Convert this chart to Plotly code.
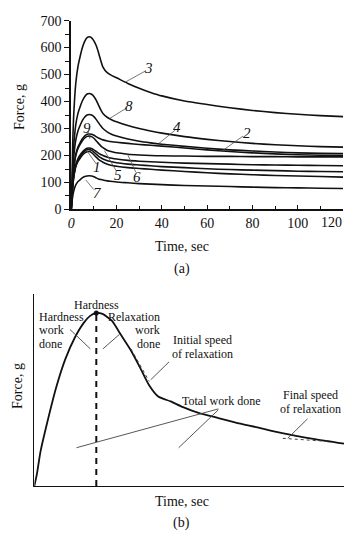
import plotly.graph_objects as go

# ---------------- data: panel (a) ----------------
T = [0, 0.5, 1, 2, 3, 4, 5, 6, 7, 8, 9, 10, 11, 12, 13, 14, 16, 18, 20, 25, 30, 35, 40, 50, 60, 70, 80, 90, 100, 110, 120]
C3 = [0, 198, 333, 467, 531, 570, 602, 624, 637, 640, 636, 625, 608, 583, 553, 528, 506, 496, 488, 467, 449, 434, 421, 402, 389, 377, 367, 359, 353, 348, 344]
C8 = [0, 133, 224, 314, 357, 383, 404, 419, 428, 430, 427, 419, 405, 388, 370, 356, 341, 332, 325, 311, 300, 291, 283, 270, 260, 252, 245, 240, 236, 233, 231]
C4 = [0, 109, 183, 257, 292, 313, 331, 343, 350, 352, 350, 344, 334, 322, 310, 300, 287, 278, 272, 261, 253, 247, 242, 234, 227, 221, 217, 213, 210, 208, 207]
C2 = [0, 87, 146, 204, 232, 249, 263, 273, 279, 280, 279, 275, 270, 265, 261, 258, 254, 251, 249, 245, 241, 238, 235, 228, 221, 215, 210, 206, 203, 201, 200]
C9 = [0, 84, 141, 199, 226, 242, 256, 265, 271, 272, 270, 264, 255, 245, 236, 229, 219, 214, 210, 205, 202, 200, 199, 198, 197, 197, 196, 196, 195, 195, 195]
C5 = [0, 71, 119, 166, 189, 203, 214, 222, 227, 228, 226, 221, 215, 209, 204, 200, 194, 190, 187, 182, 179, 177, 175, 172, 170, 168, 166, 165, 164, 163, 162]
C1 = [0, 69, 115, 162, 184, 198, 209, 216, 221, 222, 219, 213, 205, 198, 192, 187, 181, 177, 173, 168, 165, 162, 159, 155, 151, 148, 146, 144, 142, 141, 140]
C6 = [0, 67, 112, 157, 178, 191, 202, 210, 214, 215, 211, 203, 194, 186, 180, 175, 168, 163, 160, 155, 152, 149, 146, 141, 136, 132, 129, 126, 124, 122, 120]
C7 = [0, 39, 65, 91, 104, 111, 118, 122, 124, 125, 124, 121, 117, 113, 111, 109, 106, 104, 102, 99, 96, 94, 92, 89, 87, 85, 83, 81, 80, 79, 78]
SERIES = [C3, C8, C4, C2, C9, C5, C1, C6, C7]
X_TICKS = [0, 20, 40, 60, 80, 100, 120]
X_TICK_TEXT = ["<i>0</i>", "20", "40", "60", "80", "100", ""]
LAST_X_LABEL = "120"
Y_TICKS = [0, 100, 200, 300, 400, 500, 600, 700]

# ---------------- data: panel (b) (schematic) ----------------
XB = [0, 0.08, 0.2, 0.4, 0.7, 1.0, 1.3, 1.6, 1.8, 2.0, 2.2, 2.5, 2.8, 3.1, 3.4, 3.7, 4.0, 4.4, 4.8, 5.3, 5.8, 6.5, 7.2, 8.0, 9.0, 10.0]
YB = [0, 0.6, 1.8, 3.2, 5.1, 6.6, 7.7, 8.5, 8.85, 9.0, 8.95, 8.6, 7.85, 7.1, 6.2, 5.25, 4.65, 4.4, 4.1, 3.8, 3.6, 3.3, 3.05, 2.75, 2.45, 2.2]
PEAK_X = [2.0]
PEAK_Y = [9.0]

FONT = "Liberation Serif"
INK = "#111111"

fig = go.Figure()
for s in SERIES:
    fig.add_trace(go.Scatter(x=T, y=s, mode="lines", xaxis="x", yaxis="y",
                             line=dict(color=INK, width=1.6, shape="spline", smoothing=0.6),
                             showlegend=False, hoverinfo="skip"))

fig.add_trace(go.Scatter(x=XB, y=YB, mode="lines", xaxis="x2", yaxis="y2",
                         line=dict(color=INK, width=1.8, shape="spline", smoothing=0.6),
                         showlegend=False, hoverinfo="skip"))
fig.add_trace(go.Scatter(x=[PEAK_X[0], PEAK_X[0]], y=[0, PEAK_Y[0]], mode="lines", xaxis="x2", yaxis="y2",
                         line=dict(color=INK, width=2, dash="6px,5px"),
                         showlegend=False, hoverinfo="skip"))
fig.add_trace(go.Scatter(x=PEAK_X, y=PEAK_Y, mode="markers", xaxis="x2", yaxis="y2",
                         marker=dict(color=INK, size=5),
                         showlegend=False, hoverinfo="skip"))

annotations = []
shapes = []

# curve labels in panel (a): (text, label t, label v, leader from, leader to)
LABELS_A = [
    ("3", 33.9, 524, (32.9, 514), (23.4, 470)),
    ("8", 25.6, 384, (24.4, 376), (16.9, 337)),
    ("4", 46.7, 304, (45.9, 294), (38.7, 245)),
    ("2", 77.5, 285, (75.8, 272), (67.1, 220)),
    ("9", 7.0, 302, (7.4, 290), (8.2, 262)),
    ("1", 11.5, 156, (10.8, 172), (6.7, 220)),
    ("5", 20.5, 126, (19.8, 144), (14.7, 218)),
    ("6", 29.2, 120, (28.5, 138), (24.9, 204)),
    ("7", 11.8, 60, (9.9, 74), (6.4, 110)),
]
for txt, lx, ly, p0, p1 in LABELS_A:
    annotations.append(dict(x=lx, y=ly, xref="x", yref="y", text="<i>%s</i>" % txt, showarrow=False,
                            font=dict(family=FONT, size=15, color=INK), xanchor="center", yanchor="middle"))
    shapes.append(dict(type="line", xref="x", yref="y", x0=p0[0], y0=p0[1], x1=p1[0], y1=p1[1],
                       line=dict(color="#555", width=0.8)))

# panel (b) texts
def btxt(text, x, y, xanchor="center"):
    annotations.append(dict(x=x, y=y, xref="x2", yref="y2", text=text, showarrow=False,
                            font=dict(family=FONT, size=12, color=INK), xanchor=xanchor, yanchor="middle"))

btxt("Hardness", 2.0, 9.44)
btxt("Hardness", 0.08, 8.77, "left")
btxt("work", 0.08, 8.09, "left")
btxt("done", 0.08, 7.38, "left")
btxt("Relaxation", 4.13, 8.77, "right")
btxt("work", 4.13, 8.09, "right")
btxt("done", 4.13, 7.38, "right")
btxt("Initial speed", 5.42, 7.59)
btxt("of relaxation", 5.42, 6.85)
btxt("Total work done", 6.04, 4.44)
btxt("Final speed", 8.92, 4.72)
btxt("of relaxation", 8.92, 3.98)

LEADERS_B = [
    ((1.15, 8.14), (1.81, 7.13)),
    ((2.21, 7.13), (2.75, 7.89)),
    ((4.35, 6.46), (3.76, 5.53)),
    ((1.36, 1.99), (5.94, 4.01)),
    ((4.66, 1.99), (5.94, 3.96)),
    ((8.82, 3.49), (8.18, 2.48)),
]
for p0, p1 in LEADERS_B:
    shapes.append(dict(type="line", xref="x2", yref="y2", x0=p0[0], y0=p0[1], x1=p1[0], y1=p1[1],
                       line=dict(color="#444", width=0.9)))
TANGENTS_B = [((3.12, 7.13), (3.71, 5.44)), ((8.02, 2.48), (9.46, 2.32))]
for p0, p1 in TANGENTS_B:
    shapes.append(dict(type="line", xref="x2", yref="y2", x0=p0[0], y0=p0[1], x1=p1[0], y1=p1[1],
                       line=dict(color="#444", width=1, dash="3px,3px")))

# axis titles / captions
def ptxt(text, px, py, angle=0, size=14):
    annotations.append(dict(x=px / 352, y=1 - py / 538, xref="paper", yref="paper", text=text,
                            showarrow=False, textangle=angle, font=dict(family=FONT, size=size, color=INK),
                            xanchor="center", yanchor="middle"))

ptxt("Force, g", 15, 103, -90)
ptxt("Time, sec", 180, 246.5)
ptxt("(a)", 180, 270)
ptxt("Force, g", 13, 390, -90)
ptxt("Time, sec", 180, 509)
ptxt("(b)", 180, 531)
# last x tick label, pulled inside the page like in the original
annotations.append(dict(x=344 / 352, y=1 - 222 / 538, xref="paper", yref="paper", text=LAST_X_LABEL,
                        showarrow=False, font=dict(family=FONT, size=14, color=INK),
                        xanchor="right", yanchor="middle"))

axis_common = dict(showgrid=False, zeroline=False, showline=True, linecolor=INK, fixedrange=True)

fig.update_layout(
    width=352, height=538,
    margin=dict(l=0, r=0, t=0, b=0),
    paper_bgcolor="white", plot_bgcolor="white",
    font=dict(family=FONT, color=INK),
    showlegend=False,
    xaxis=dict(domain=[68 / 352, 343 / 352], range=[0, 120], anchor="y",
               tickmode="array", tickvals=X_TICKS, ticktext=X_TICK_TEXT,
               ticks="inside", ticklen=5, tickwidth=1.2, tickcolor=INK,
               minor=dict(dtick=10, ticks="inside", ticklen=4, tickwidth=1, tickcolor=INK),
               tickfont=dict(family=FONT, size=14, color=INK), linewidth=1.6, **axis_common),
    yaxis=dict(domain=[1 - 208.3 / 538, 1 - 14 / 538], range=[0, 700], anchor="x",
               tickmode="array", tickvals=Y_TICKS, ticks="outside", ticklen=5, tickwidth=1.2, tickcolor=INK,
               minor=dict(dtick=50, ticks="outside", ticklen=4, tickwidth=1, tickcolor=INK),
               tickfont=dict(family=FONT, size=14, color=INK), linewidth=1.8, **axis_common),
    xaxis2=dict(domain=[30.7 / 352, 344 / 352], range=[0, 10], anchor="y2",
                showticklabels=False, ticks="", linewidth=1.3, **axis_common),
    yaxis2=dict(domain=[1 - 492.7 / 538, 1 - 295 / 538], range=[0, 10], anchor="x2",
                showticklabels=False, ticks="", linewidth=1.3, **axis_common),
    annotations=annotations,
    shapes=shapes,
)

fig.write_html("out.html")
